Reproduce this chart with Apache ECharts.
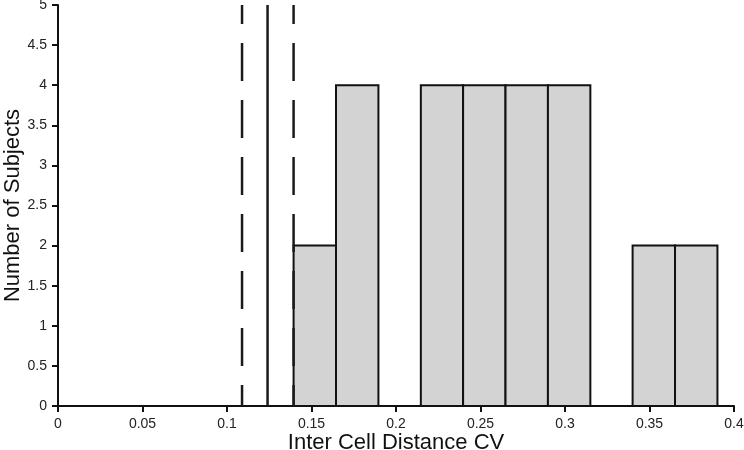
<!DOCTYPE html>
<html>
<head>
<meta charset="utf-8">
<script src="https://cdn.jsdelivr.net/npm/echarts@6/dist/echarts.min.js"></script>
<style>html,body{margin:0;padding:0;background:#fff}#c{width:744px;height:450px}</style>
</head>
<body>
<div id="c"></div>
<script>
// Histogram bins (left edge, right edge) and counts
var binLeft  = [0.1394, 0.1645, 0.2147, 0.2397, 0.2648, 0.2899, 0.3400, 0.3651];
var binRight = [0.1645, 0.1896, 0.2397, 0.2648, 0.2899, 0.3150, 0.3651, 0.3902];
var counts   = [2, 4, 4, 4, 4, 4, 2, 2];
// Reference lines: mean and +/- bounds
var meanValue = 0.1240;
var lowerBound = 0.1089;
var upperBound = 0.1394;
var xTicks = [0, 0.05, 0.1, 0.15, 0.2, 0.25, 0.3, 0.35, 0.4];
var yTicks = [0, 0.5, 1, 1.5, 2, 2.5, 3, 3.5, 4, 4.5, 5];
var xTitle = 'Inter Cell Distance CV';
var yTitle = 'Number of Subjects';

var barData = binLeft.map(function (l, i) { return [l, binRight[i], counts[i]]; });
var yTop = yTicks[yTicks.length - 1];
var font = '"Liberation Sans", Arial, sans-serif';

var chart = echarts.init(document.getElementById('c'), null, {renderer: 'canvas'});
chart.setOption({
  animation: false,
  backgroundColor: '#fff',
  grid: {left: 58, right: 10, top: 5, bottom: 44, containLabel: false, outerBoundsMode: 'none'},
  xAxis: {
    type: 'value', min: xTicks[0], max: xTicks[xTicks.length - 1], interval: 0.05,
    name: xTitle, nameLocation: 'middle', nameGap: 26, nameMoveOverlap: false,
    nameTextStyle: {fontSize: 22, color: '#111', fontFamily: font},
    axisLine: {show: true, onZero: false, lineStyle: {color: '#111', width: 2}},
    axisTick: {show: true, inside: false, length: 6, lineStyle: {color: '#111', width: 2}},
    axisLabel: {fontSize: 14, color: '#222', fontFamily: font, margin: 11, hideOverlap: false},
    splitLine: {show: false}
  },
  yAxis: {
    type: 'value', min: yTicks[0], max: yTop, interval: 0.5,
    name: yTitle, nameLocation: 'middle', nameGap: 34, nameMoveOverlap: false,
    nameTextStyle: {fontSize: 22, color: '#111', fontFamily: font},
    axisLine: {show: true, onZero: false, lineStyle: {color: '#111', width: 2}},
    axisTick: {show: true, inside: false, length: 6, lineStyle: {color: '#111', width: 2}},
    axisLabel: {fontSize: 14, color: '#222', fontFamily: font, margin: 11, hideOverlap: false},
    splitLine: {show: false}
  },
  series: [
    {
      type: 'custom',
      data: barData,
      encode: {x: [0, 1], y: 2},
      renderItem: function (params, api) {
        var p0 = api.coord([api.value(0), api.value(2)]);
        var p1 = api.coord([api.value(1), 0]);
        return {
          type: 'rect',
          shape: {x: p0[0], y: p0[1], width: p1[0] - p0[0], height: p1[1] - p0[1]},
          style: {fill: '#d3d3d3', stroke: '#111', lineWidth: 2}
        };
      },
      z: 2
    },
    {
      type: 'line', symbol: 'none', silent: true,
      data: [[lowerBound, yTop], [lowerBound, 0]],
      lineStyle: {color: '#1a1a1a', width: 2.5, type: [38, 19], dashOffset: 19},
      z: 3
    },
    {
      type: 'line', symbol: 'none', silent: true,
      data: [[meanValue, yTop], [meanValue, 0]],
      lineStyle: {color: '#1a1a1a', width: 2.5, type: 'solid'},
      z: 3
    },
    {
      type: 'line', symbol: 'none', silent: true,
      data: [[upperBound, yTop], [upperBound, 0]],
      lineStyle: {color: '#1a1a1a', width: 2.5, type: [38, 19], dashOffset: 19},
      z: 3
    }
  ]
});
</script>
</body>
</html>
